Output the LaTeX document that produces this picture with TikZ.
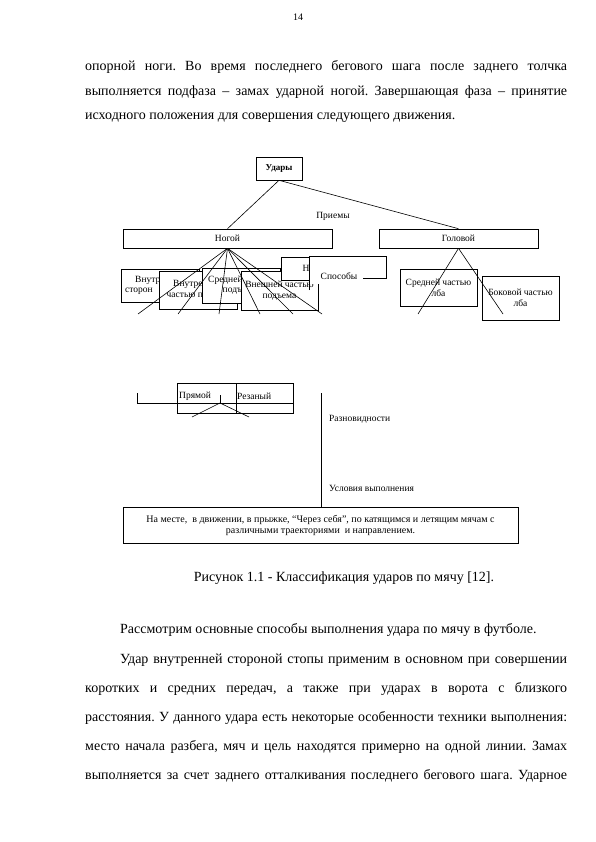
\documentclass[tikz,border=0pt]{standalone}
\usepackage{fontspec}
\setmainfont{Liberation Serif}
\frenchspacing
\begin{document}
\begin{tikzpicture}[x=1pt,y=-1pt,
    box/.style={draw, fill=white, line width=0.6pt, inner sep=1pt, align=center,
        font=\fontsize{9.5}{11.3}\selectfont},
    lbl/.style={inner sep=0pt, font=\fontsize{9.5}{11}\selectfont},
    body/.style={inner sep=0pt, anchor=base west, font=\fontsize{14}{16}\selectfont},
    link/.style={line width=0.6pt}]

\useasboundingbox[fill=white] (0,0) rectangle (595,842);

% --- Текст страницы (сверху) ---
\node[inner sep=0pt, font=\fontsize{10}{12}\selectfont] (pnum) at (298,17) {14};
\node[body] (t1) at (85,71) {\makebox[482pt][s]{опорной ноги. Во время последнего бегового шага после заднего толчка}};
\node[body] (t2) at (85,96) {\makebox[482pt][s]{выполняется подфаза – замах ударной ногой. Завершающая фаза – принятие}};
\node[body] (t3) at (85,120) {исходного положения для совершения следующего движения.};

% --- Верхний уровень ---
\node[box, font=\fontsize{9}{11}\selectfont\bfseries, minimum width=46pt, minimum height=23pt] (udary) at (279,168.5) {Удары};
\node[box, minimum width=209pt, minimum height=19pt] (nogoy) at (227.5,238.5) {Ногой};
\node[box, minimum width=159pt, minimum height=19pt] (golova) at (458.5,238.5) {Головой};
\draw[link] (udary.south) -- (nogoy.north);
\draw[link] (udary.south) -- (golova.north);
\node[lbl] (priemy) at (333,216) {Приемы};

% --- Способы ногой (блоки накладываются друг на друга) ---
\node[box, minimum width=78pt, minimum height=33pt] (vnstor) at (160,285.5) {};
\node[lbl, anchor=west] (vnstort) at (135,280.5) {Внутр};
\node[lbl, anchor=west] (vnstorb) at (125,291.5) {сторон};
\node[box, minimum width=78pt, minimum height=38pt] (vnpod) at (198,290) {};
\node[lbl, anchor=west] (vnpodt) at (173,284.5) {Внутре};
\node[lbl, anchor=west] (vnpodb) at (166.5,295.5) {частью п};
\node[box, minimum width=78pt, minimum height=35pt] (srpod) at (241,285.5) {};
\node[lbl, anchor=west] (srpodt) at (208,280) {Средней};
\node[lbl, anchor=west] (srpodb) at (222.5,291) {подъ};
\node[box, minimum width=77pt, minimum height=39pt] (vshpod) at (279.5,290.5) {Внешней частью\\подъема};
\node[box, minimum width=73pt, minimum height=23pt] (noskom) at (317.5,268.5) {};
\node[lbl, anchor=west] (noskomt) at (302.5,268.5) {Н};
% рамка "Способы" без части нижней линии
\fill[white] (309,256) rectangle (386,284);
\draw[link] (309,290) -- (309,256) -- (386,256) -- (386,278) -- (363,278);
\node[lbl] (sposoby) at (339,276) {Способы};

% --- Способы головой ---
\node[box, minimum width=77pt, minimum height=37pt] (srlob) at (438.5,287.5) {Средней частью\\лба};
\node[box, minimum width=77pt, minimum height=44pt] (boklob) at (520.5,298) {Боковой частью\\лба};

% Линии от "Ногой"
\foreach \ex [count=\i] in {138,178,219,260,293,322} {
    \coordinate (nf\i) at (\ex,314);
    \draw[link] (nogoy.south) -- (nf\i);
}
% Линии от "Головой"
\coordinate (gf1) at (418,314);
\coordinate (gf2) at (503,314);
\draw[link] (golova.south) -- (gf1);
\draw[link] (golova.south) -- (gf2);

% --- Разновидности ---
\node[draw, line width=0.6pt, minimum width=59pt, minimum height=30pt, anchor=north west] (pryam) at (177,383) {};
\node[draw, line width=0.6pt, minimum width=57pt, minimum height=30pt, anchor=north west] (rezan) at (236,383) {};
\node[lbl, anchor=west] (pryamt) at (179,396) {Прямой};
\node[lbl, anchor=west] (rezant) at (237,396) {Резаный};
\coordinate (brtop) at (137,393);
\coordinate (brend) at (293,403);
\coordinate (brmid) at (220,403);
\coordinate (brtick) at (220,395);
\draw[link] (brtop) |- (brend);
\draw[link] (brtick) -- (brmid);
\coordinate (rf1) at (192,417);
\coordinate (rf2) at (249,417);
\draw[link] (brmid) -- (rf1);
\draw[link] (brmid) -- (rf2);

% --- Условия выполнения ---
\node[box, font=\fontsize{10}{11.3}\selectfont, minimum width=395pt, minimum height=36pt] (uslov) at (320.5,525.5)
    {На месте,\ \ в движении, в прыжке, “Через себя”, по катящимся и летящим мячам с\\различными траекториями\ \ и направлением.};
\coordinate (vtop) at (321,393);
\draw[link] (vtop) -- (vtop |- uslov.north);
\node[lbl, anchor=west] (raznov) at (329,419) {Разновидности};
\node[lbl, anchor=west] (uslvyp) at (329,488) {Условия выполнения};

% --- Подпись и текст (снизу) ---
\node[inner sep=0pt, font=\fontsize{14}{16}\selectfont] (caption) at (344,578) {Рисунок 1.1 - Классификация ударов по мячу [12].};
\node[body] (b1) at (120,633) {Рассмотрим основные способы выполнения удара по мячу в футболе.};
\node[body] (b2) at (120,663) {\makebox[447pt][s]{Удар внутренней стороной стопы применим в основном при совершении}};
\node[body] (b3) at (85,692) {\makebox[482pt][s]{коротких и средних передач, а также при ударах в ворота с близкого}};
\node[body] (b4) at (85,721) {\makebox[482pt][s]{расстояния. У данного удара есть некоторые особенности техники выполнения:}};
\node[body] (b5) at (85,750) {\makebox[482pt][s]{место начала разбега, мяч и цель находятся примерно на одной линии. Замах}};
\node[body] (b6) at (85,779) {\makebox[482pt][s]{выполняется за счет заднего отталкивания последнего бегового шага. Ударное}};

\end{tikzpicture}
\end{document}
